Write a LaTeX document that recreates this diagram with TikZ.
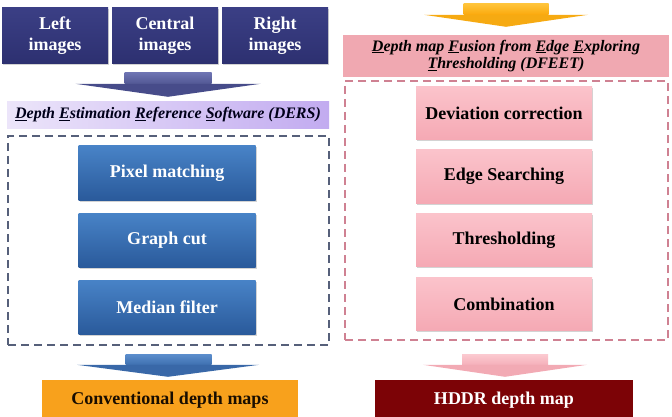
\documentclass[tikz,border=0pt]{standalone}
\usepackage{fontspec}
\setmainfont{Liberation Serif}
\usetikzlibrary{calc,shadows}

\definecolor{navy}{HTML}{2D3070}
\definecolor{navylight}{HTML}{3B3F85}
\definecolor{lavleft}{HTML}{ECE5FA}
\definecolor{lavright}{HTML}{C2ABF0}
\definecolor{slate}{HTML}{56607A}
\definecolor{bluetop}{HTML}{4883C7}
\definecolor{bluebot}{HTML}{2A5A9B}
\definecolor{orangebox}{HTML}{F8A11C}
\definecolor{pinkbanner}{HTML}{F0A8B1}
\definecolor{pinkframe}{HTML}{CF8192}
\definecolor{pinktop}{HTML}{FBC3CB}
\definecolor{pinkbot}{HTML}{F5A9B4}
\definecolor{darkred}{HTML}{7C0306}
\definecolor{arrowone}{HTML}{6D73B2}
\definecolor{arrowonebot}{HTML}{525894}
\definecolor{arrowonehead}{HTML}{474C8A}
\definecolor{arrowtwo}{HTML}{FFC43A}
\definecolor{arrowtwobot}{HTML}{FBA90C}
\definecolor{arrowtwohead}{HTML}{F6AA12}
\definecolor{arrowthree}{HTML}{5A8CCB}
\definecolor{arrowthreebot}{HTML}{3E70B0}
\definecolor{arrowthreehead}{HTML}{3968A8}
\definecolor{arrowfour}{HTML}{FBC8CF}
\definecolor{arrowfourbot}{HTML}{F5B0BA}
\definecolor{arrowfourhead}{HTML}{F2AAB4}

\begin{document}
\begin{tikzpicture}[x=1pt, y=-1pt, font=\fontsize{18}{21}\selectfont\bfseries,
	imgbox/.style={top color=navylight, bottom color=navy, text=white, align=center, minimum width=106pt, minimum height=56pt, inner sep=0pt, drop shadow={shadow xshift=1pt, shadow yshift=-1.5pt, opacity=0.35}},
	stepblue/.style={top color=bluetop, bottom color=bluebot, text=white, minimum width=177pt, minimum height=54pt, inner sep=0pt, drop shadow={shadow xshift=1pt, shadow yshift=-1.5pt, opacity=0.35}},
	steppink/.style={top color=pinktop, bottom color=pinkbot, text=black, minimum width=176pt, minimum height=53pt, inner sep=0pt, drop shadow={shadow xshift=1pt, shadow yshift=-1.5pt, opacity=0.35}},
	frame/.style={draw=#1, line width=1.4pt, dash pattern=on 8pt off 5pt, inner sep=0pt},
	banner/.style={font=\fontsize{16}{17.5}\selectfont\bfseries\itshape, align=center, inner sep=0pt},
	result/.style={minimum height=40pt, inner sep=0pt}]
	\useasboundingbox (0,0) rectangle (672,417);

	% left column
	\node[imgbox] (left) at (55,36) {Left\\images};
	\node[imgbox] (cent) at (165,36) {Central\\images};
	\node[imgbox] (right) at (275,36) {Right\\images};
	\node[banner, left color=lavleft, right color=lavright, minimum width=322pt, minimum height=27pt, text=black!90!blue] (ders) at (168,115)
		{\underline{D}epth \underline{E}stimation \underline{R}eference \underline{S}oftware (DERS)};
	\node[frame=slate, minimum width=321pt, minimum height=209pt] (leftframe) at (168.5,240.5) {};
	\node[stepblue] (pix) at (167,173) {Pixel matching};
	\node[stepblue] (graph) at (167,240) {Graph cut};
	\node[stepblue] (median) at (167,307) {Median filter};
	\node[result, fill=orangebox, minimum width=256pt, text=black!90!orange] (conv) at (170,400) {Conventional depth maps};

	% right column
	\node[banner, fill=pinkbanner, minimum width=326pt, minimum height=42pt, text=black] (dfeet) at (506,56)
		{\underline{D}epth map \underline{F}usion from \underline{E}dge \underline{E}xploring\\\underline{T}hresholding (DFEET)};
	\node[frame=pinkframe, minimum width=323pt, minimum height=259pt] (rightframe) at (506.5,210.5) {};
	\node[steppink] (dev) at (504,113.5) {Deviation correction};
	\node[steppink] (edge) at (504,176.5) {Edge Searching};
	\node[steppink] (thr) at (504,240) {Thresholding};
	\node[steppink] (comb) at (504,304) {Combination};
	\node[result, fill=darkred, minimum width=258pt, text=white] (hddr) at (504,400) {HDDR depth map};

	% block arrows, stem then head, placed on the node they point at
	\shade[top color=arrowone, bottom color=arrowonebot] ($(ders.north)+(-43.5,-28.5)$) rectangle ($(ders.north)+(43.5,-17.5)$);
	\fill[arrowonehead] ($(ders.north)+(-92.5,-17.5)$) -- ($(ders.north)+(92.5,-17.5)$) -- ($(ders.north)+(0,-4.5)$) -- cycle;

	\shade[top color=arrowtwo, bottom color=arrowtwobot] ($(dfeet.north)+(-42.5,-31)$) rectangle ($(dfeet.north)+(42.5,-20)$);
	\fill[arrowtwohead] ($(dfeet.north)+(-82,-20)$) -- ($(dfeet.north)+(82,-20)$) -- ($(dfeet.north)+(0,-8)$) -- cycle;

	\shade[top color=arrowthree, bottom color=arrowthreebot] ($(conv.north)+(-44.5,-25)$) rectangle ($(conv.north)+(41.5,-15)$);
	\fill[arrowthreehead] ($(conv.north)+(-93,-15)$) -- ($(conv.north)+(89,-15)$) -- ($(conv.north)+(-2,-3)$) -- cycle;

	\shade[top color=arrowfour, bottom color=arrowfourbot] ($(hddr.north)+(-42,-25)$) rectangle ($(hddr.north)+(44,-15)$);
	\fill[arrowfourhead] ($(hddr.north)+(-81,-15)$) -- ($(hddr.north)+(83,-15)$) -- ($(hddr.north)+(1,-3)$) -- cycle;
\end{tikzpicture}
\end{document}
